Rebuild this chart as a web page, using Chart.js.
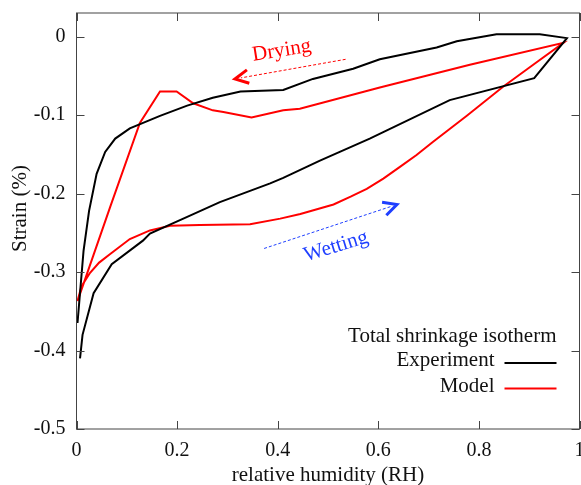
<!DOCTYPE html>
<html>
<head>
<meta charset="utf-8">
<script src="https://cdn.jsdelivr.net/npm/chart.js@4/dist/chart.umd.min.js"></script>
<style>
  html, body { margin: 0; padding: 0; background: #fff; overflow: hidden; }
  #wrap { width: 581px; height: 485px; position: relative; }
</style>
</head>
<body>
<div id="wrap"><canvas id="isotherm"></canvas></div>
<script>
// Data, loop order: wetting branch up, then drying branch back
const expRH = [0.007, 0.012, 0.034, 0.070, 0.132, 0.146, 0.219, 0.285, 0.385, 0.411, 0.484, 0.583, 0.742, 0.910, 0.975,
  0.921, 0.835, 0.756, 0.716, 0.603, 0.550, 0.470, 0.411, 0.326, 0.271, 0.220, 0.166, 0.106, 0.077, 0.057, 0.040, 0.025, 0.014, 0.002];
const expStrain = [-0.410, -0.380, -0.327, -0.290, -0.260, -0.251, -0.230, -0.211, -0.187, -0.180, -0.158, -0.130, -0.081, -0.053, -0.002,
  0.003, 0.003, -0.006, -0.014, -0.029, -0.041, -0.054, -0.068, -0.070, -0.078, -0.088, -0.101, -0.117, -0.130, -0.147, -0.175, -0.222, -0.273, -0.365];

const modelRH = [0.002, 0.010, 0.027, 0.045, 0.067, 0.106, 0.146, 0.186, 0.245, 0.345, 0.405, 0.445, 0.511, 0.545, 0.577, 0.610, 0.643, 0.676, 0.709, 0.776, 0.848, 0.910, 0.968,
  0.782, 0.603, 0.444, 0.411, 0.348, 0.292, 0.271, 0.232, 0.199, 0.166, 0.126, 0.067, 0.002];
const modelStrain = [-0.337, -0.318, -0.301, -0.288, -0.277, -0.258, -0.247, -0.241, -0.240, -0.239, -0.232, -0.226, -0.214, -0.204, -0.194, -0.181, -0.166, -0.151, -0.134, -0.101, -0.064, -0.035, -0.008,
  -0.036, -0.065, -0.092, -0.094, -0.103, -0.096, -0.094, -0.085, -0.070, -0.070, -0.110, -0.217, -0.337];

const xTicks = [0, 0.2, 0.4, 0.6, 0.8, 1];
const yTicks = [0, -0.1, -0.2, -0.3, -0.4, -0.5];

const seriesNames = ["Experiment", "Model"];
const legendTitle = "Total shrinkage isotherm";

// Annotations: [x, y] in data units
const dryingArrow = { from: [0.535, -0.029], to: [0.315, -0.054] };
const wettingArrow = { from: [0.373, -0.270], to: [0.637, -0.214] };
const dryingLabel = { text: "Drying", at: [0.408, -0.018], angle: -9 };
const wettingLabel = { text: "Wetting", at: [0.516, -0.2675], angle: -17 };

const SERIF = "'Liberation Serif', 'DejaVu Serif', serif";
const RED = "#ff0000";
const BLUE = "#1f3fff";

function toPoints(xs, ys) {
  return xs.map((x, i) => ({ x: x, y: ys[i] }));
}

function drawArrow(ctx, x, y, arrow, color) {
  const x0 = x.getPixelForValue(arrow.from[0]);
  const y0 = y.getPixelForValue(arrow.from[1]);
  const x1 = x.getPixelForValue(arrow.to[0]);
  const y1 = y.getPixelForValue(arrow.to[1]);
  const ang = Math.atan2(y0 - y1, x0 - x1);
  ctx.save();
  ctx.strokeStyle = color;
  ctx.lineWidth = 1;
  ctx.setLineDash([3, 2]);
  ctx.beginPath();
  ctx.moveTo(x0, y0);
  ctx.lineTo(x1 + 6 * Math.cos(ang), y1 + 6 * Math.sin(ang));
  ctx.stroke();
  ctx.setLineDash([]);
  ctx.lineWidth = 3;
  ctx.lineJoin = "miter";
  ctx.beginPath();
  const L = 15, spread = 27 * Math.PI / 180;
  ctx.moveTo(x1 + L * Math.cos(ang - spread), y1 + L * Math.sin(ang - spread));
  ctx.lineTo(x1, y1);
  ctx.lineTo(x1 + L * Math.cos(ang + spread), y1 + L * Math.sin(ang + spread));
  ctx.stroke();
  ctx.restore();
}

function drawLabel(ctx, x, y, lbl, color) {
  ctx.save();
  ctx.translate(x.getPixelForValue(lbl.at[0]), y.getPixelForValue(lbl.at[1]));
  ctx.rotate(lbl.angle * Math.PI / 180);
  ctx.fillStyle = color;
  ctx.font = "21px " + SERIF;
  ctx.textAlign = "center";
  ctx.textBaseline = "middle";
  ctx.fillText(lbl.text, 0, 0);
  ctx.restore();
}

// Frame, mirrored inward ticks, annotations, legend, y title
const decorPlugin = {
  id: "decor",
  afterDraw(chart) {
    const { ctx, chartArea: a, scales: { x, y } } = chart;
    ctx.save();
    ctx.strokeStyle = "#444";
    ctx.lineWidth = 1;
    ctx.strokeRect(a.left, a.top, a.right - a.left, a.bottom - a.top);
    ctx.beginPath();
    xTicks.forEach((v) => {
      const px = Math.round(x.getPixelForValue(v)) + 0.5;
      ctx.moveTo(px, a.bottom); ctx.lineTo(px, a.bottom - 8);
      ctx.moveTo(px, a.top); ctx.lineTo(px, a.top + 8);
    });
    yTicks.forEach((v) => {
      const py = Math.round(y.getPixelForValue(v)) + 0.5;
      ctx.moveTo(a.left, py); ctx.lineTo(a.left + 8, py);
      ctx.moveTo(a.right, py); ctx.lineTo(a.right - 8, py);
    });
    ctx.stroke();
    ctx.restore();

    drawArrow(ctx, x, y, dryingArrow, RED);
    drawArrow(ctx, x, y, wettingArrow, BLUE);
    drawLabel(ctx, x, y, dryingLabel, RED);
    drawLabel(ctx, x, y, wettingLabel, BLUE);

    // legend, right aligned, text before the line sample
    ctx.save();
    ctx.font = "21px " + SERIF;
    ctx.fillStyle = "#111";
    ctx.textAlign = "right";
    ctx.textBaseline = "alphabetic";
    ctx.fillText(legendTitle, a.right - 23, a.bottom - 87);
    chart.data.datasets.forEach((ds, i) => {
      const base = a.bottom - 63 + i * 25.5;
      ctx.fillStyle = "#111";
      ctx.fillText(ds.label, a.right - 85, base);
      ctx.strokeStyle = ds.borderColor;
      ctx.lineWidth = 2;
      ctx.beginPath();
      ctx.moveTo(a.right - 75, base - 3);
      ctx.lineTo(a.right - 23, base - 3);
      ctx.stroke();
    });
    ctx.restore();

    // y axis title
    ctx.save();
    ctx.translate(20, a.top + (a.bottom - a.top) * 0.47);
    ctx.rotate(-Math.PI / 2);
    ctx.font = "21px " + SERIF;
    ctx.fillStyle = "#111";
    ctx.textAlign = "center";
    ctx.textBaseline = "middle";
    ctx.fillText("Strain (%)", 0, 0);
    ctx.restore();
  },
};

new Chart(document.getElementById("isotherm"), {
  type: "scatter",
  data: {
    datasets: [
      {
        label: seriesNames[0],
        data: toPoints(expRH, expStrain),
        showLine: true,
        borderColor: "#000",
        borderWidth: 2,
        pointRadius: 0,
        tension: 0,
      },
      {
        label: seriesNames[1],
        data: toPoints(modelRH, modelStrain),
        showLine: true,
        borderColor: RED,
        borderWidth: 2,
        pointRadius: 0,
        tension: 0,
      },
    ],
  },
  options: {
    responsive: true,
    maintainAspectRatio: false,
    animation: false,
    devicePixelRatio: 1,
    layout: { padding: { top: 13, right: 1.5, left: 0, bottom: 0 } },
    plugins: { legend: { display: false }, tooltip: { enabled: false } },
    scales: {
      x: {
        type: "linear",
        min: 0,
        max: 1,
        grid: { display: false, drawTicks: false },
        border: { display: false },
        afterBuildTicks: (s) => { s.ticks = xTicks.map((v) => ({ value: v })); },
        afterFit: (s) => { s.height = 56; s.paddingLeft = 0; s.paddingRight = 0; },
        ticks: {
          padding: 10,
          color: "#111",
          font: { family: SERIF, size: 20 },
          callback: (v) => String(v),
        },
        title: {
          display: true,
          text: "relative humidity (RH)",
          color: "#111",
          font: { family: SERIF, size: 21 },
          padding: { top: 0, bottom: -3 },
        },
      },
      y: {
        min: -0.5,
        max: 0.03,
        grid: { display: false, drawTicks: false },
        border: { display: false },
        afterBuildTicks: (s) => { s.ticks = yTicks.map((v) => ({ value: v })); },
        afterFit: (s) => { s.width = 76.5; s.paddingTop = 0; s.paddingBottom = 0; },
        ticks: {
          padding: 11,
          color: "#111",
          font: { family: SERIF, size: 20 },
          callback: (v) => String(v),
        },
        title: { display: false },
      },
    },
  },
  plugins: [decorPlugin],
});
</script>
</body>
</html>
